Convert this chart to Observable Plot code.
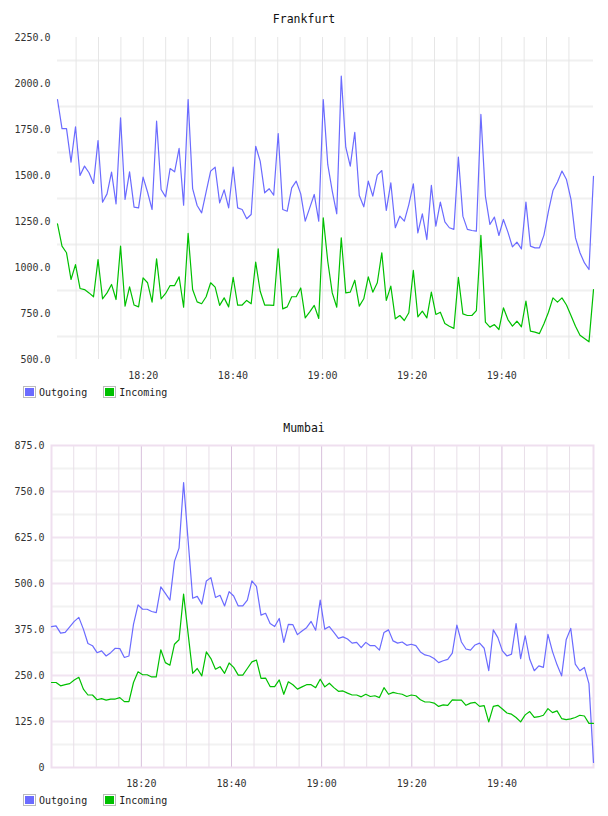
<!DOCTYPE html>
<html>
<head>
<meta charset="utf-8">
<script src="https://cdn.jsdelivr.net/npm/d3@7"></script>
<script src="https://cdn.jsdelivr.net/npm/@observablehq/plot@0.6"></script>
<style>
  body { margin: 0; background: #fff; font-family: "DejaVu Sans Mono", monospace; }
  #page { position: relative; width: 608px; height: 816px; overflow: hidden; }
  .title { position: absolute; left: 0; width: 608px; text-align: center; font-size: 11.5px; color: #111; }
  .chart { position: absolute; left: 0; }
  .legend { position: absolute; left: 23px; font-size: 10px; color: #222; display: flex; align-items: center; }
  .legend .sw { box-sizing: border-box; width: 13px; height: 12px; border: 1px solid #bbb; padding: 1px; margin-right: 3px; }
  .legend .sw div { width: 100%; height: 100%; }
  .legend .lab { margin-right: 16px; }
</style>
</head>
<body>
<div id="page"></div>
<script>
// Traffic samples, one per minute, 18:00 – 20:00
const seriesNames = ["Outgoing", "Incoming"];
const seriesColors = ["#6b6bff", "#00c000"];

const frankfurtStart = "2024-01-01T18:00:51Z";
const frankfurtEnd = "2024-01-01T20:00:29Z";
const frankfurtOut = [
  1913,1755,1755,1573,1765,1500,1551,1515,1457,1690,
  1355,1400,1518,1346,1813,1370,1520,1328,1324,1491,
  1409,1315,1795,1424,1384,1538,1520,1647,1339,1913,
  1429,1337,1297,1411,1524,1545,1351,1422,1324,1545,
  1324,1315,1265,1288,1659,1578,1406,1428,1393,1728,
  1315,1306,1433,1469,1400,1252,1324,1397,1252,1913,
  1560,1415,1292,2040,1654,1551,1735,1391,1330,1469,
  1388,1502,1527,1310,1460,1216,1279,1252,1342,1455,
  1188,1292,1152,1446,1225,1355,1248,1216,1207,1600,
  1279,1207,1201,1198,1832,1388,1234,1274,1174,1261,
  1192,1112,1138,1101,1355,1116,1107,1107,1176,1306,
  1418,1465,1524,1478,1370,1161,1080,1025,989,1496
];
const frankfurtIn = [
  1237,1116,1080,935,1016,886,880,862,841,1043,
  830,862,908,826,1116,790,895,796,786,944,
  917,812,1047,830,859,902,902,949,784,1185,
  880,813,803,841,917,893,794,835,786,947,
  796,796,821,803,1029,871,796,796,794,1101,
  775,786,841,841,889,726,759,794,723,1270,
  1034,862,784,1161,862,866,931,790,830,949,
  866,917,1080,821,899,721,739,712,754,984,
  732,763,726,866,745,757,696,681,669,947,
  748,739,739,766,1175,703,676,690,663,781,
  717,681,708,678,817,654,649,641,694,757,
  835,812,835,796,739,681,632,614,596,880
];
const frankfurtYTicks = [500, 750, 1000, 1250, 1500, 1750, 2000, 2250];

const mumbaiStart = "2024-01-01T18:00:04Z";
const mumbaiEnd = "2024-01-01T20:00:19Z";
const mumbaiOut = [
  383,385,365,367,382,397,408,376,337,331,
  312,317,303,312,324,323,299,303,389,442,
  430,430,424,421,491,473,455,560,596,774,
  616,460,465,444,507,516,462,468,439,478,
  466,439,439,455,507,492,414,419,391,383,
  405,340,389,388,361,371,380,397,373,455,
  376,383,367,351,355,349,338,340,326,340,
  331,331,319,367,374,344,338,341,332,335,
  331,314,306,303,296,285,290,294,311,387,
  341,322,319,333,338,324,263,374,353,317,
  303,308,391,296,358,294,263,276,272,362,
  315,279,249,347,378,281,263,272,228,14
];
const mumbaiIn = [
  231,231,222,225,228,238,245,213,197,197,
  184,187,183,186,186,190,179,179,231,260,
  252,252,246,246,320,285,278,335,347,471,
  363,256,269,249,314,296,267,274,256,284,
  272,251,251,269,287,292,242,243,220,220,
  238,199,233,225,213,219,225,225,217,240,
  219,229,217,207,208,202,197,197,192,199,
  193,195,190,217,199,204,201,199,193,197,
  195,184,178,178,175,166,170,169,184,183,
  183,169,175,177,166,168,124,166,169,159,
  148,145,136,124,143,152,136,138,142,160,
  149,154,133,130,132,136,142,140,120,120
];
const mumbaiYTicks = [0, 125, 250, 375, 500, 625, 750, 875];

// Evenly spaced sample times between the first and last sample
function sampleTimes(start, end, n) {
  const t0 = new Date(start).getTime(), t1 = new Date(end).getTime();
  return d3.range(n).map(i => new Date(t0 + (t1 - t0) * i / (n - 1)));
}

function rows(times, out, inc) {
  return [
    ...times.map((t, i) => ({time: t, value: out[i], series: seriesNames[0]})),
    ...times.map((t, i) => ({time: t, value: inc[i], series: seriesNames[1]}))
  ];
}

const hm = d3.utcFormat("%H:%M");
const yFmt = d => d === 0 ? "0" : d.toFixed(1);

function drawChart({times, out, inc, yTicks, marginLeft, style}) {
  const data = rows(times, out, inc);
  const [t0, t1] = d3.extent(times);
  // keep grid lines and labels clear of the right edge
  const last = new Date(+t1 - 120000);
  const step = yTicks[1] - yTicks[0];
  const halfSteps = yTicks.slice(0, -1).map(v => v + step / 2);
  const minor5 = d3.utcMinute.every(5).range(t0, last).filter(d => d.getUTCMinutes() % 20 !== 0);
  const major20 = d3.utcMinute.every(20).range(t0, last);
  const marks = [
    Plot.ruleY(halfSteps, {stroke: style.halfH, strokeWidth: 2}),
    Plot.ruleX(minor5, {stroke: style.minorV, strokeWidth: 1}),
    Plot.ruleX(major20, {stroke: style.majorV, strokeWidth: 1})
  ];
  if (style.majorH) marks.push(Plot.ruleY(yTicks.slice(1, -1), {stroke: style.majorH, strokeWidth: 2}));
  if (style.frame) marks.push(Plot.frame({stroke: style.frame, strokeWidth: 2}));
  marks.push(
    Plot.line(data, {x: "time", y: "value", z: "series", stroke: "series", strokeWidth: 1.2}),
    Plot.axisX({ticks: major20, tickFormat: hm, tickSize: 0, tickPadding: 12, fontSize: 10, fill: "#333", label: null}),
    Plot.axisY({ticks: yTicks, tickFormat: yFmt, tickSize: 0, tickPadding: 7, fontSize: 10, fill: "#333", label: null})
  );
  return Plot.plot({
    width: 608,
    height: 355,
    marginTop: 7,
    marginBottom: 26,
    marginLeft,
    marginRight: 15,
    style: {fontFamily: "DejaVu Sans Mono, monospace", background: "transparent"},
    x: {type: "utc", domain: [t0, t1], label: null},
    y: {domain: [yTicks[0], yTicks[yTicks.length - 1]], label: null},
    color: {domain: seriesNames, range: seriesColors},
    marks
  });
}

function legend(top) {
  const div = document.createElement("div");
  div.className = "legend";
  div.style.top = top + "px";
  seriesNames.forEach((name, i) => {
    const sw = document.createElement("div");
    sw.className = "sw";
    const inner = document.createElement("div");
    inner.style.background = seriesColors[i];
    sw.appendChild(inner);
    const lab = document.createElement("span");
    lab.className = "lab";
    lab.textContent = name;
    div.appendChild(sw);
    div.appendChild(lab);
  });
  return div;
}

function title(text, top) {
  const div = document.createElement("div");
  div.className = "title";
  div.style.top = top + "px";
  div.textContent = text;
  return div;
}

const page = document.getElementById("page");

const fTimes = sampleTimes(frankfurtStart, frankfurtEnd, frankfurtOut.length);
page.appendChild(title("Frankfurt", 12));
const f = drawChart({
  times: fTimes, out: frankfurtOut, inc: frankfurtIn, yTicks: frankfurtYTicks, marginLeft: 57,
  style: {halfH: "#f0f0f0", minorV: "#e6e6e6", majorV: "#e6e6e6"}
});
f.classList.add("chart");
f.style.top = "30px";
page.appendChild(f);
page.appendChild(legend(386));

const mTimes = sampleTimes(mumbaiStart, mumbaiEnd, mumbaiOut.length);
page.appendChild(title("Mumbai", 421));
const m = drawChart({
  times: mTimes, out: mumbaiOut, inc: mumbaiIn, yTicks: mumbaiYTicks, marginLeft: 51,
  style: {halfH: "#f2f2f2", minorV: "#e8dfe8", majorV: "#d9c0dc", majorH: "#f1e4f1", frame: "#efdfef"}
});
m.classList.add("chart");
m.style.top = "438px";
page.appendChild(m);
page.appendChild(legend(794));
</script>
</body>
</html>
